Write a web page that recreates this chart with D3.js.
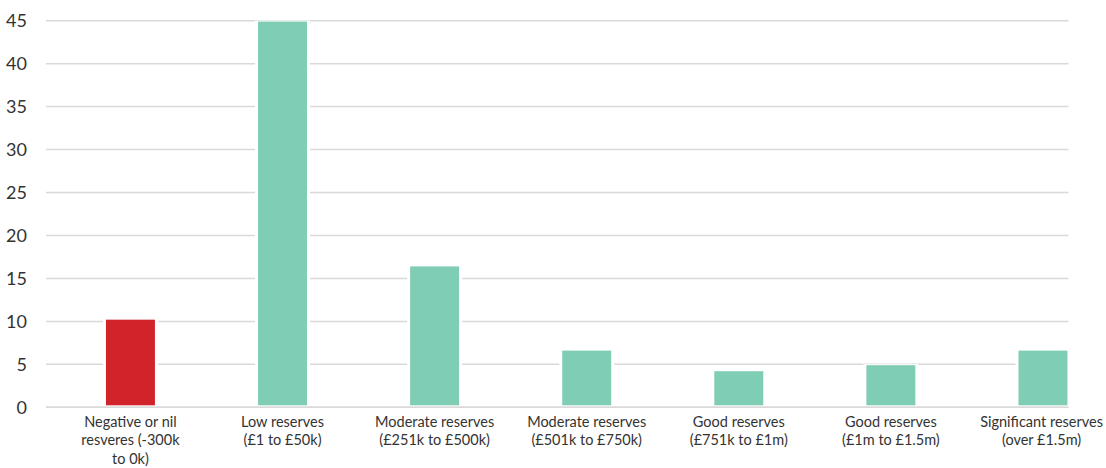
<!DOCTYPE html>
<html>
<head>
<meta charset="utf-8">
<script src="https://cdn.jsdelivr.net/npm/d3@7"></script>
<style>
  html, body { margin: 0; padding: 0; background: #fff; }
  svg { display: block; }
  text { font-family: Lato, "Open Sans", sans-serif; fill: #333; }
</style>
</head>
<body>
<svg id="chart" width="1106" height="468"></svg>
<script>
// Reserve bands (line breaks mark where each label wraps)
const categories = [
  "Negative or nil\nresveres (-300k\nto 0k)",
  "Low reserves\n(£1 to £50k)",
  "Moderate reserves\n(£251k to £500k)",
  "Moderate reserves\n(£501k to £750k)",
  "Good reserves\n(£751k to £1m)",
  "Good reserves\n(£1m to £1.5m)",
  "Significant reserves\n(over £1.5m)"
];
const values = [10.2, 44.9, 16.4, 6.6, 4.2, 4.9, 6.6];
const highlight = [true, false, false, false, false, false, false];
const yTicks = [0, 5, 10, 15, 20, 25, 30, 35, 40, 45];

const W = 1106;
const svg = d3.select("#chart");
const gridLeft = 46, gridRight = 1068.5;
const yBottom = 407.3, yTop = 20.7;

const x = d3.scaleBand()
  .domain(d3.range(categories.length))
  .range([54.4, 1119])
  .paddingInner(0.678)
  .paddingOuter(0.339);

const y = d3.scaleLinear().domain([0, 45]).range([yBottom, yTop]);

// horizontal gridlines
svg.append("g")
  .selectAll("line")
  .data(yTicks)
  .join("line")
  .attr("x1", gridLeft).attr("x2", gridRight)
  .attr("y1", d => y(d)).attr("y2", d => y(d))
  .attr("stroke", "#d9d9d9")
  .attr("stroke-width", 1.5);

// y-axis labels
const yAxis = d3.axisLeft(y).tickValues(yTicks).tickSize(0).tickPadding(0);
svg.append("g")
  .attr("transform", "translate(27,0)")
  .call(yAxis)
  .call(g => g.select(".domain").remove())
  .call(g => g.selectAll("text")
    .attr("font-family", "Lato, 'Open Sans', sans-serif")
    .attr("font-size", 18)
    .attr("fill", "#333"));

// white halo behind bars to break the gridlines
const bars = svg.append("g");
bars.selectAll("rect.halo")
  .data(values)
  .join("rect")
  .attr("class", "halo")
  .attr("x", (d, i) => x(i) - 3)
  .attr("width", x.bandwidth() + 6)
  .attr("y", d => y(d) - 1)
  .attr("height", d => yBottom - y(d))
  .attr("fill", "#fff");

bars.selectAll("rect.bar")
  .data(values)
  .join("rect")
  .attr("class", "bar")
  .attr("x", (d, i) => x(i))
  .attr("width", x.bandwidth())
  .attr("y", d => y(d))
  .attr("height", d => yBottom - 2 - y(d))
  .attr("fill", (d, i) => highlight[i] ? "#d2232a" : "#80cdb6");

// baseline
svg.append("line")
  .attr("x1", gridLeft).attr("x2", gridRight)
  .attr("y1", yBottom).attr("y2", yBottom)
  .attr("stroke", "#d9d9d9")
  .attr("stroke-width", 1.5);

// category labels
const xLabels = svg.append("g")
  .selectAll("text")
  .data(categories)
  .join("text")
  .attr("text-anchor", "middle")
  .attr("font-size", 14.5)
  .attr("fill", "#3a3a3a")
  .attr("transform", (d, i) => `translate(${x(i) + x.bandwidth() / 2},426.5)`);

xLabels.selectAll("tspan")
  .data(d => d.split("\n"))
  .join("tspan")
  .attr("x", 0)
  .attr("y", (d, j) => j * 18.8)
  .text(d => d);

// keep the right-most label inside the frame
xLabels.each(function (d, i) {
  const bb = this.getBBox();
  const cx = x(i) + x.bandwidth() / 2;
  const overflow = cx + bb.x + bb.width - (W - 3);
  if (overflow > 0) {
    d3.select(this).attr("transform", `translate(${cx - overflow},426.5)`);
  }
});
</script>
</body>
</html>
